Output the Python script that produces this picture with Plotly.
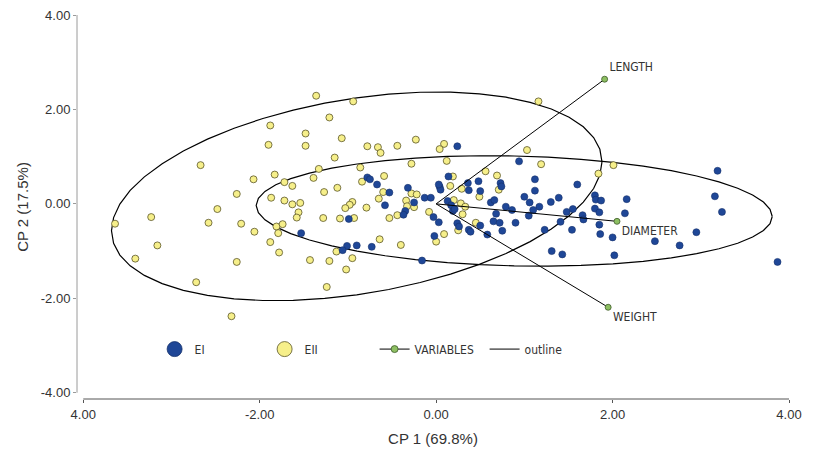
import numpy as np
import plotly.graph_objects as go

# PCA scores, group EI (blue)
ei_x = [0.24, -0.78, -0.75, -0.67, -0.53, -0.32, 0.04, 0.05, 0.14, -0.13, -0.06, -0.25, -0.58, -0.35,
        -0.37, 0.13, 0.17, 0.19, -0.03, 0.03, 0.24, -0.99, -1.53, -0.02, -1.01, -0.90, -0.73, -1.06,
        -0.16, 0.94, 1.12, 1.60, 0.36, 0.48, 0.37, 0.50, 0.73, 1.12, 0.62, 0.66, 1.00, 1.06, 1.17,
        1.30, 1.39, 0.79, 0.86, 1.10, 1.05, 0.68, 0.65, 0.72, 0.90, 0.26, 0.37, 0.39, 0.50, 0.75,
        0.58, 1.23, 1.48, 1.55, 1.41, 1.54, 1.66, 1.67, 1.80, 1.81, 1.87, 1.80, 1.85, 1.85, 1.86,
        2.00, 2.14, 2.16, 1.31, 1.43, 2.02, 3.19, 3.16, 3.24, 2.48, 2.76, 2.95, 3.87, 0.74, 0.21, 0.03]
ei_y = [1.22, 0.56, 0.52, 0.41, 0.24, 0.34, 0.36, 0.30, 0.58, 0.13, 0.13, 0.03, -0.03, -0.15,
        -0.23, 0.06, -0.03, -0.15, -0.28, -0.39, -0.41, -0.32, -0.62, -0.68, -0.89, -0.88, -0.91, -0.98,
        -1.20, 0.90, 0.52, 0.41, 0.44, 0.48, 0.29, 0.27, 0.44, 0.28, 0.03, 0.08, 0.15, 0.03, -0.06,
        0.04, 0.13, -0.06, -0.13, -0.13, -0.25, -0.21, -0.37, -0.40, -0.40, -0.48, -0.55, -0.59, -0.46, -0.57,
        -0.65, -0.55, -0.17, -0.11, -0.38, -0.55, -0.24, -0.33, 0.18, 0.09, 0.07, -0.10, -0.18, -0.44, -0.64,
        -0.71, -0.20, 0.10, -1.00, -1.07, -1.09, 0.70, 0.16, -0.17, -0.79, -0.88, -0.60, -1.23, 0.37, -0.11, 0.41]

# PCA scores, group EII (yellow)
eii_x = [-1.88, -1.90, -2.67, -2.07, -1.83, -2.26, -1.87, -2.48, -3.23, -3.64, -2.58, -2.21, -2.06, -1.81,
         -1.79, -3.16, -1.88, -3.41, -1.78, -2.26, -2.72, -2.32, -1.36, -0.94, -1.21, -1.48, -1.07, -1.48,
         -0.78, -0.66, -0.63, -0.44, -0.23, 0.09, 0.04, -1.15, -0.28, 0.12, -1.33, -0.86, -1.39, -1.72,
         -0.84, -0.59, -1.63, -1.12, -1.27, -0.60, -1.72, -1.63, -1.54, -0.65, -0.95, -0.98, -1.03, -0.79,
         -0.34, -0.33, -0.28, -0.22, -0.25, -1.56, -1.58, -1.28, -1.09, -0.93, -0.53, -0.44, -0.08, -1.74,
         0.09, 0.00, -0.64, -0.40, -1.13, -1.43, -1.21, -0.95, -1.02, -1.24, 1.16, 1.03, 1.19, 2.01,
         1.84, 0.56, 0.69, 0.19, 0.16, 0.29, 0.71, 0.49, 0.20, 0.28, 0.33, 0.30, 0.45, 0.25]
eii_y = [1.66, 1.25, 0.82, 0.52, 0.62, 0.21, 0.13, -0.11, -0.28, -0.42, -0.40, -0.42, -0.59, -0.48,
         -0.62, -0.88, -0.81, -1.16, -1.03, -1.23, -1.66, -2.38, 2.29, 2.17, 1.83, 1.49, 1.39, 1.23,
         1.22, 1.20, 1.08, 1.23, 1.36, 1.27, 1.16, 0.98, 0.85, 0.91, 0.74, 0.77, 0.55, 0.46,
         0.47, 0.59, 0.38, 0.34, 0.25, 0.25, 0.07, -0.01, 0.02, 0.11, 0.04, -0.02, -0.09, -0.08,
         0.07, -0.05, 0.22, 0.20, -0.07, -0.18, -0.29, -0.30, -0.31, -0.30, -0.30, -0.24, -0.17, -0.43,
         -0.64, -0.80, -0.75, -0.87, -1.01, -1.19, -1.21, -1.15, -1.39, -1.76, 2.17, 1.14, 0.84, 0.82,
         0.64, 0.69, 0.60, 0.58, 0.38, 0.32, 0.30, 0.15, 0.08, 0.01, -0.06, -0.22, -0.40, -0.56]

# variable loadings (biplot vectors)
var_names = ["LENGTH", "DIAMETER", "WEIGHT"]
var_x = [1.91, 2.05, 1.95]
var_y = [2.64, -0.37, -2.19]
var_textpos = ["top right", "bottom right", "bottom right"]

# outline ellipses: centre, half extents and correlation
ell_cx = [0.885, -0.90]
ell_cy = [-0.15, 0.16]
ell_hx = [2.925, 2.78]
ell_hy = [1.17, 2.21]
ell_rho = [-0.10, 0.33]

x_ticks = [-4, -2, 0, 2, 4]
x_ticktext = ["4.00", "-2.00", "0.00", "2.00", "4.00"]
y_ticks = [-4, -2, 0, 2, 4]
y_ticktext = ["-4.00", "-2.00", "0.00", "2.00", "4.00"]

BLUE = "#1f4797"
YELLOW = "#f6ef8a"
GREEN = "#8dbf62"
FONT = "Liberation Sans, Arial, sans-serif"
NARROW = "DejaVu Sans Condensed, Liberation Sans, sans-serif"

# polygon outline of each ellipse
t = np.linspace(0, 2 * np.pi, 49)
ox, oy = [], []
for cx, cy, hx, hy, r in zip(ell_cx, ell_cy, ell_hx, ell_hy, ell_rho):
    phi = np.arccos(r)
    ox += list(cx + hx * np.cos(t)) + [None]
    oy += list(cy + hy * np.cos(t - phi)) + [None]

vx, vy = [], []
for a, b in zip(var_x, var_y):
    vx += [0, a, None]
    vy += [0, b, None]

fig = go.Figure()
fig.add_trace(go.Scatter(x=ox, y=oy, mode="lines", line=dict(color="black", width=1.2),
                         showlegend=False, hoverinfo="skip"))
fig.add_trace(go.Scatter(x=eii_x, y=eii_y, mode="markers", showlegend=False,
                         marker=dict(size=7, color=YELLOW, line=dict(color="#5a5628", width=0.8))))
fig.add_trace(go.Scatter(x=ei_x, y=ei_y, mode="markers", showlegend=False,
                         marker=dict(size=7, color=BLUE, line=dict(color="#15316b", width=0.6))))
fig.add_trace(go.Scatter(x=vx, y=vy, mode="lines", line=dict(color="black", width=1),
                         showlegend=False, hoverinfo="skip"))
fig.add_trace(go.Scatter(x=var_x, y=var_y, mode="markers+text", text=var_names, textposition=var_textpos,
                         textfont=dict(family=NARROW, size=12, color="#333333"), showlegend=False,
                         marker=dict(size=6, color=GREEN, line=dict(color="#3d5a2a", width=0.8))))

# legend entries
fig.add_trace(go.Scatter(x=[None], y=[None], mode="markers", name="EI",
                         marker=dict(size=15, color=BLUE, line=dict(color="#15316b", width=0.8))))
fig.add_trace(go.Scatter(x=[None], y=[None], mode="markers", name="EII",
                         marker=dict(size=15, color=YELLOW, line=dict(color="#5a5628", width=0.8))))
fig.add_trace(go.Scatter(x=[None], y=[None], mode="lines+markers", name="VARIABLES",
                         line=dict(color="black", width=1),
                         marker=dict(size=7, color=GREEN, line=dict(color="#3d5a2a", width=0.8))))
fig.add_trace(go.Scatter(x=[None], y=[None], mode="lines", name="outline",
                         line=dict(color="black", width=1)))

# detached axis lines
fig.add_shape(type="line", xref="paper", yref="y", x0=0, x1=0, y0=-4, y1=4,
              line=dict(color="#9a9a9a", width=1))
fig.add_shape(type="line", xref="x", yref="paper", x0=-4, x1=4, y0=0, y1=0,
              line=dict(color="#555555", width=1))

fig.update_layout(
    width=814, height=461,
    margin=dict(l=77, r=25, t=15, b=62),
    plot_bgcolor="white", paper_bgcolor="white",
    font=dict(family=FONT, size=13, color="#333333"),
    xaxis=dict(range=[-4.071, 4], tickvals=x_ticks, ticktext=x_ticktext, ticks="outside", ticklen=3,
               tickcolor="#555555", showgrid=False, zeroline=False, showline=False, automargin=False,
               tickfont=dict(size=13, color="#333333"),
               title=dict(text="CP 1 (69.8%)", font=dict(size=15), standoff=12)),
    yaxis=dict(range=[-4.133, 4], tickvals=y_ticks, ticktext=y_ticktext, ticks="outside", ticklen=3,
               tickcolor="#9a9a9a", showgrid=False, zeroline=False, showline=False, automargin=False,
               tickfont=dict(size=13, color="#333333"),
               title=dict(text="CP 2 (17.5%)", font=dict(size=15), standoff=8)),
    legend=dict(orientation="h", x=0.109, y=0.13, xanchor="left", yanchor="middle",
                entrywidth=65, entrywidthmode="pixels",
                font=dict(family=NARROW, size=12, color="#333333"),
                bgcolor="rgba(0,0,0,0)"),
)

fig.write_html("out.html", config={"displayModeBar": False},
               post_script="document.body.style.margin='0px';")
